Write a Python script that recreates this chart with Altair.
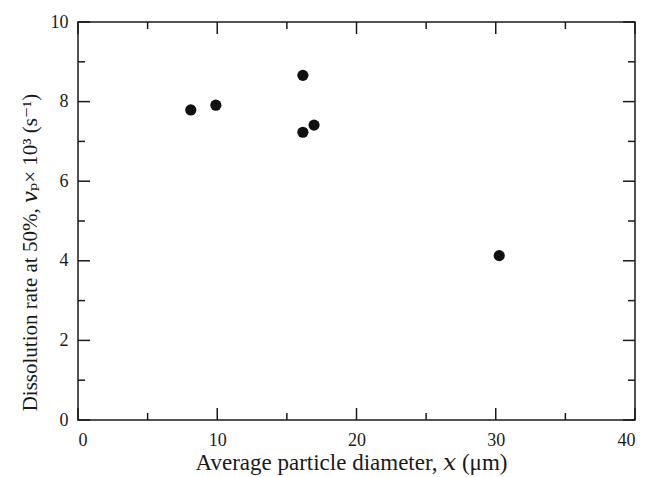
import altair as alt
import pandas as pd

# Data
diameter = [8.1, 9.9, 16.15, 16.15, 16.95, 30.25]
rate = [7.79, 7.91, 8.66, 7.23, 7.41, 4.13]

x_major = [0, 10, 20, 30, 40]
x_minor = [5, 15, 25, 35]
y_major = [0, 2, 4, 6, 8, 10]
y_minor = [1, 3, 5, 7, 9]

W, H = 557, 398
MAJ, MIN = 12, 7
FONT = "'Liberation Serif', 'Times New Roman', 'DejaVu Serif', serif"
INK = "#1a1a1a"

df = pd.DataFrame({"d": diameter, "r": rate})
xs = alt.Scale(domain=[0, 40], nice=False, zero=False)
ys = alt.Scale(domain=[0, 10], nice=False, zero=False)

points = alt.Chart(df).mark_circle(size=125, color="#111111", opacity=1).encode(
    x=alt.X("d:Q", scale=xs, axis=alt.Axis(
        values=x_major, ticks=False, domain=False, grid=False, labelFont=FONT,
        labelFontSize=18, labelColor=INK, labelPadding=11,
        title="Average particle diameter, 𝑥 (μm)", titleFont=FONT,
        titleFontSize=23, titleFontWeight="normal", titleColor=INK, titlePadding=2,
        titleX=273)),
    y=alt.Y("r:Q", scale=ys, axis=alt.Axis(
        values=y_major, ticks=False, domain=False, grid=False, labelFont=FONT,
        labelFontSize=18, labelColor=INK, labelPadding=10,
        title="Dissolution rate at 50%, 𝑣ₚ× 10³ (s⁻¹)", titleFont=FONT,
        titleFontSize=21, titleFontWeight="normal", titleColor=INK,
        titleX=-48, titleY=230, titleAngle=-90, titleAlign="center", titleBaseline="middle")),
)


def vticks(vals, length):
    d = pd.DataFrame({"v": vals})
    bottom = alt.Chart(d).mark_rule(color=INK, strokeWidth=1.5).encode(
        x=alt.X("v:Q", scale=xs), y=alt.value(H), y2=alt.value(H - length))
    top = alt.Chart(d).mark_rule(color=INK, strokeWidth=1.5).encode(
        x=alt.X("v:Q", scale=xs), y=alt.value(0), y2=alt.value(length))
    return [bottom, top]


def hticks(vals, length):
    d = pd.DataFrame({"v": vals})
    left = alt.Chart(d).mark_rule(color=INK, strokeWidth=1.5).encode(
        y=alt.Y("v:Q", scale=ys), x=alt.value(0), x2=alt.value(length))
    right = alt.Chart(d).mark_rule(color=INK, strokeWidth=1.5).encode(
        y=alt.Y("v:Q", scale=ys), x=alt.value(W), x2=alt.value(W - length))
    return [left, right]


layers = (vticks(x_major, MAJ) + vticks(x_minor, MIN)
          + hticks(y_major, MAJ) + hticks(y_minor, MIN) + [points])

chart = alt.layer(*layers).properties(
    width=W, height=H,
    autosize=alt.AutoSizeParams(type="none"),
    padding={"left": 78, "top": 22, "right": 16, "bottom": 57},
    background="white",
).configure_view(stroke=INK, strokeWidth=1.5)

chart.save("out.html", embed_options={"renderer": "svg", "actions": False})
